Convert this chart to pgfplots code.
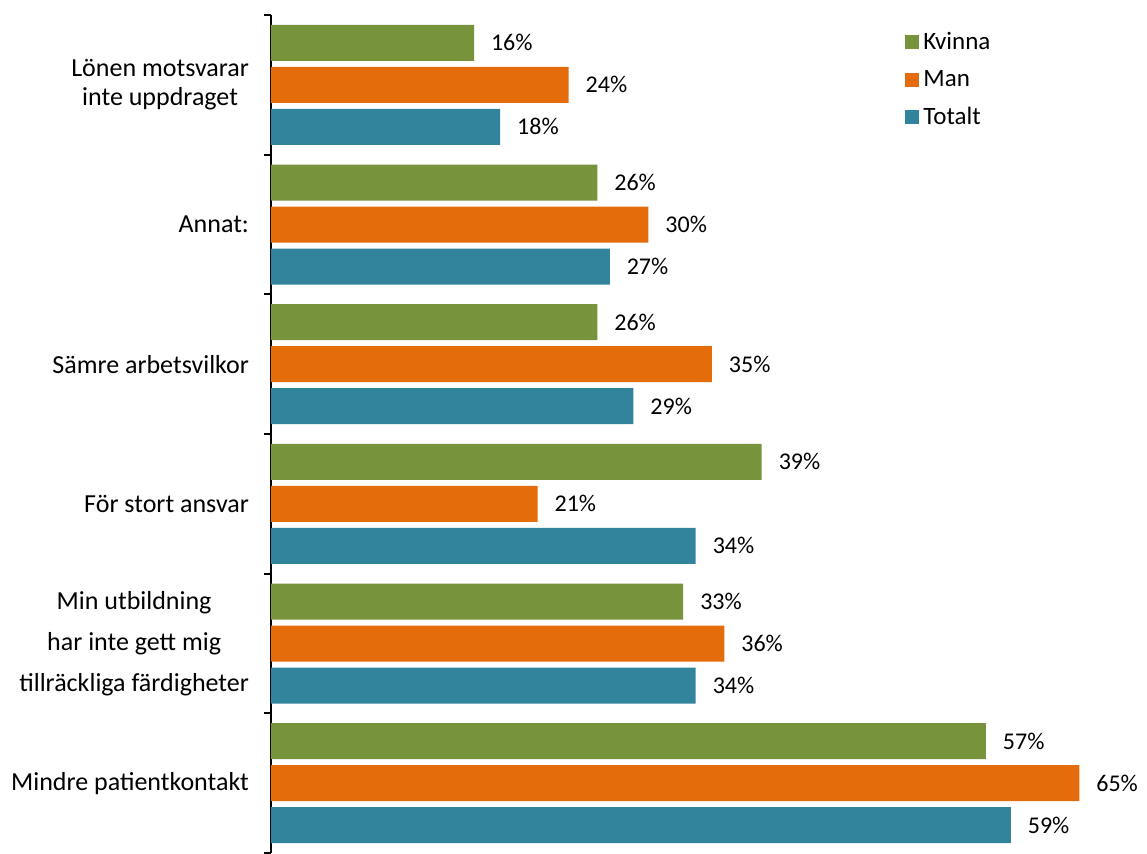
\documentclass[border=0pt]{standalone}
\usepackage{fontspec}
\setmainfont{Carlito}
\usepackage{pgfplots}
\pgfplotsset{compat=1.18}
\definecolor{kvinna}{RGB}{119,147,60}
\definecolor{man}{RGB}{228,108,10}
\definecolor{totalt}{RGB}{49,132,155}

\begin{document}
\begin{tikzpicture}
\begin{axis}[
scale only axis,
width=411pt, height=419pt,
xbar=3pt, bar width=18pt,
xmin=0, xmax=66,
ymin=-0.5, ymax=5.5, y dir=reverse,
axis x line=none, axis y line=left,
y axis line style={-, line width=1pt},
ytick={0,...,5},
yticklabels={{Lönen motsvarar\\inte uppdraget},{Annat:},{Sämre arbetsvilkor},{För stort ansvar},{Min utbildning\\[6pt]har inte gett mig\\[6pt]tillräckliga färdigheter},{Mindre patientkontakt}},
yticklabel style={align=center, font=\fontsize{13}{14.5}\selectfont, xshift=-7.5pt},
major tick length=0pt,
minor ytick={-0.5,0.5,1.5,2.5,3.5,4.5,5.5},
minor tick length=3.5pt,
tick align=outside, ytick pos=left,
every tick/.style={black, line width=1pt},
/pgf/number format/assume math mode=true,
nodes near coords={\pgfmathprintnumber[fixed, precision=0]{\pgfplotspointmeta}\%},
every node near coord/.append style={font=\fontsize{12}{14}\selectfont, black, xshift=5pt},
legend style={at={(0.764,0.99)}, anchor=north west, draw=none, fill=none,
  row sep=5pt, font=\fontsize{12.5}{14}\selectfont},
legend cell align=left,
reverse legend,
legend image code/.code={\draw[#1, draw=none] (0pt,-3.5pt) rectangle (7pt,3.5pt);},
]
\addplot[fill=totalt, draw=none] coordinates {(18.4,0) (27.2,1) (29.1,2) (34.1,3) (34.1,4) (59.4,5)};
\addlegendentry{Totalt}
\addplot[fill=man, draw=none] coordinates {(23.9,0) (30.3,1) (35.4,2) (21.4,3) (36.4,4) (64.9,5)};
\addlegendentry{Man}
\addplot[fill=kvinna, draw=none] coordinates {(16.3,0) (26.2,1) (26.2,2) (39.4,3) (33.1,4) (57.4,5)};
\addlegendentry{Kvinna}
\end{axis}
\pgfresetboundingbox
\path (current axis.south west) ++(-135.5pt,0pt) rectangle ++(573.5pt,426.5pt);
\end{tikzpicture}
\end{document}
